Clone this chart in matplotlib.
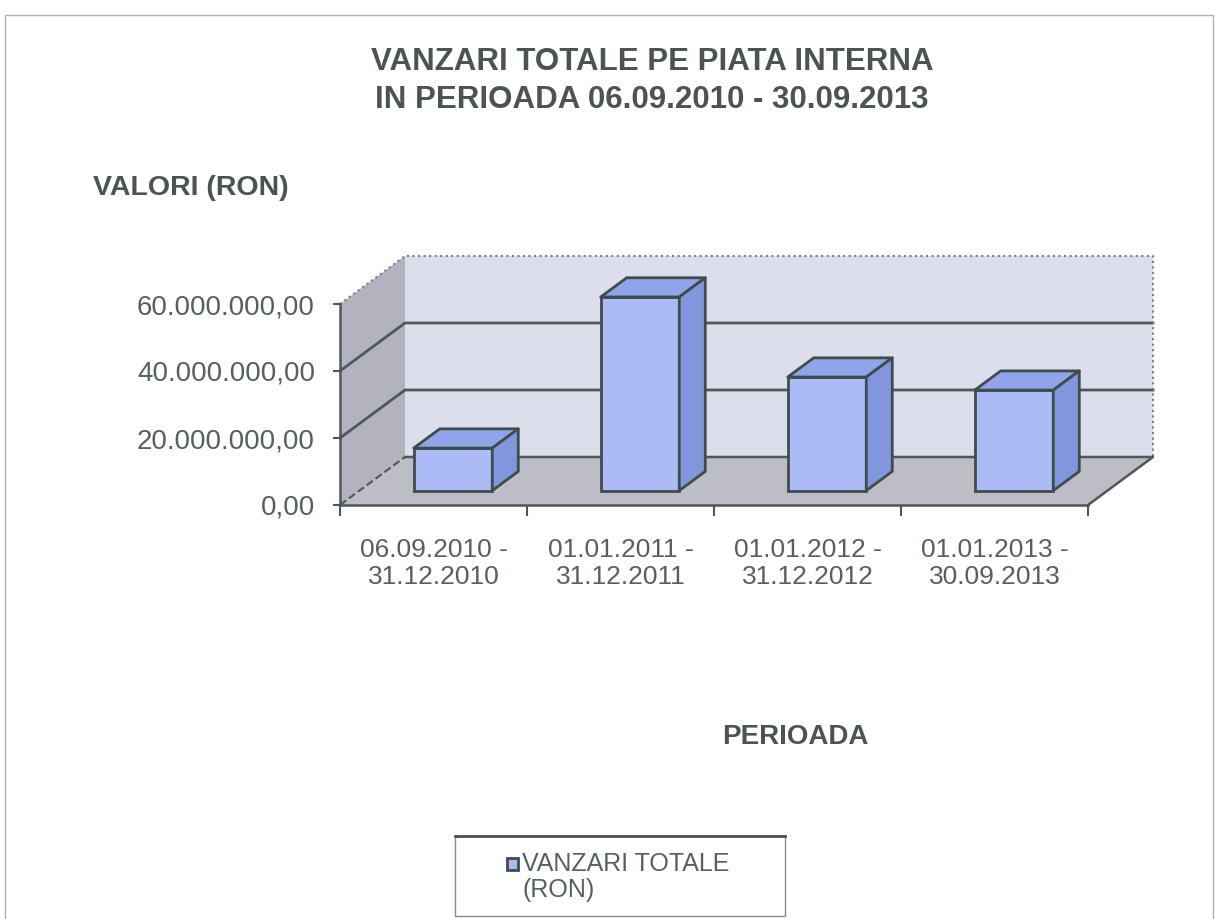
import matplotlib
matplotlib.use('Agg')
import matplotlib.pyplot as plt
from matplotlib.patches import Polygon, Rectangle
from matplotlib.ticker import FuncFormatter

categories = ['06.09.2010 -\n31.12.2010', '01.01.2011 -\n31.12.2011',
              '01.01.2012 -\n31.12.2012', '01.01.2013 -\n30.09.2013']
values = [12.7e6, 57.8e6, 33.9e6, 30.0e6]
yticks = [0, 20e6, 40e6, 60e6]
series_name = 'VANZARI TOTALE\n(RON)'

plt.rcParams['font.family'] = ['Liberation Sans', 'DejaVu Sans']

W, H = 1218, 919
fig = plt.figure(figsize=(W / 100, H / 100), dpi=100)

# pixel layout of the fake 3d box
X0, Y0 = 340, 505          # front-left corner (value 0)
PX_CAT = 187               # px per category
PX_VAL = 3.35 / 1e6        # px per RON
DX = 65 / PX_CAT           # depth offset in category units
DY = 48 / PX_VAL           # depth offset in RON
YMAX = yticks[-1]
n = len(categories)

L, R, T, B = 300, 1180, 240, 530
ax = fig.add_axes([L / W, 1 - B / H, (R - L) / W, (B - T) / H])
ax.set_xlim((L - X0) / PX_CAT, (R - X0) / PX_CAT)
ax.set_ylim((Y0 - B) / PX_VAL, (Y0 - T) / PX_VAL)
ax.patch.set_visible(False)

grid_c = '#4f5757'
txt_c = '#566060'


def P(x, v, d):
    return (x + d * DX, v + d * DY)


# walls and floor
ax.add_patch(Polygon([P(0, 0, 1), P(n, 0, 1), P(n, YMAX, 1), P(0, YMAX, 1)],
                     closed=True, facecolor='#dddeec', edgecolor='none', zorder=0.5))
ax.add_patch(Polygon([P(0, 0, 0), P(0, 0, 1), P(0, YMAX, 1), P(0, YMAX, 0)],
                     closed=True, facecolor='#b3b3bf', edgecolor='none', zorder=0.5))
ax.add_patch(Polygon([P(0, 0, 0), P(n, 0, 0), P(n, 0, 1), P(0, 0, 1)],
                     closed=True, facecolor='#bdbdc6', edgecolor='none', zorder=0.5))

# gridlines on left + back wall
for v in yticks[1:-1]:
    pts = [P(0, v, 0), P(0, v, 1), P(n, v, 1)]
    ax.plot([p[0] for p in pts], [p[1] for p in pts], color=grid_c, lw=2, zorder=1)
pts = [P(0, YMAX, 0), P(0, YMAX, 1), P(n, YMAX, 1), P(n, 0, 1)]
ax.plot([p[0] for p in pts], [p[1] for p in pts], color='#777f7f', lw=1.5, ls=':', zorder=1)
pts = [P(0, 0, 0), P(0, 0, 1)]
ax.plot([p[0] for p in pts], [p[1] for p in pts], color=grid_c, lw=1.5, ls='--', zorder=1)
pts = [P(0, 0, 1), P(n, 0, 1), P(n, 0, 0)]
ax.plot([p[0] for p in pts], [p[1] for p in pts], color=grid_c, lw=1.8, zorder=1)

# bars
bw = 0.42
d0, d1 = 0.3, 0.7
xs = [i + 0.5 - bw / 2 for i in range(n)]
ax.bar([x + d0 * DX for x in xs], values, width=bw, bottom=d0 * DY, align='edge',
       color='#abbbf6', edgecolor='#3f4c4c', linewidth=2, zorder=3)
for x, h in zip(xs, values):
    xr = x + bw
    ax.add_patch(Polygon([P(x, h, d0), P(xr, h, d0), P(xr, h, d1), P(x, h, d1)],
                         closed=True, facecolor='#90a4ea', edgecolor='#3f4c4c',
                         lw=2, joinstyle='round', zorder=3))
    ax.add_patch(Polygon([P(xr, 0, d0), P(xr, 0, d1), P(xr, h, d1), P(xr, h, d0)],
                         closed=True, facecolor='#8196dc', edgecolor='#3f4c4c',
                         lw=2, joinstyle='round', zorder=3))

# axes
for s in ['top', 'right']:
    ax.spines[s].set_visible(False)
ax.spines['left'].set_position(('data', 0))
ax.spines['left'].set_bounds(0, YMAX)
ax.spines['bottom'].set_position(('data', 0))
ax.spines['bottom'].set_bounds(0, n)
for s in ['left', 'bottom']:
    ax.spines[s].set_color(grid_c)
    ax.spines[s].set_linewidth(1.8)

ax.set_yticks(yticks)
ax.yaxis.set_major_formatter(FuncFormatter(
    lambda v, p: f'{v:,.2f}'.replace(',', ' ').replace('.', ',').replace(' ', '.')))
ax.tick_params(axis='y', direction='out', length=5, width=1.5, color=grid_c,
               pad=13, labelsize=20, labelcolor=txt_c)

ax.set_xticks(range(n + 1))
ax.set_xticklabels([])
ax.set_xticks([i + 0.5 for i in range(n)], minor=True)
ax.set_xticklabels(categories, minor=True)
ax.tick_params(axis='x', which='major', direction='out', length=8, width=1.5, color=grid_c)
ax.tick_params(axis='x', which='minor', length=0, pad=24, labelsize=19, labelcolor=txt_c)
for t in ax.get_xticklabels(minor=True):
    t.set_linespacing(1.12)

# texts
title_c = '#4b5353'
fig.text(652 / W, 1 - 62 / H, 'VANZARI TOTALE PE PIATA INTERNA', ha='center', va='center',
         fontsize=22.5, fontweight='bold', color=title_c)
fig.text(652 / W, 1 - 100 / H, 'IN PERIOADA 06.09.2010 - 30.09.2013', ha='center', va='center',
         fontsize=22.5, fontweight='bold', color=title_c)
fig.text(93 / W, 1 - 188 / H, 'VALORI (RON)', ha='left', va='center',
         fontsize=20.5, fontweight='bold', color=title_c)
fig.text(795 / W, 1 - 737 / H, 'PERIOADA', ha='center', va='center',
         fontsize=20, fontweight='bold', color=title_c)

# legend (drawn by hand to match the boxed excel legend)
fig.patches.append(Rectangle((455 / W, 1 - 916 / H), 330 / W, 80 / H, transform=fig.transFigure,
                             facecolor='white', edgecolor='#8a8a8a', lw=1))
fig.lines.append(plt.Line2D([455 / W, 785 / W], [1 - 836 / H, 1 - 836 / H],
                            transform=fig.transFigure, color='#505050', lw=2))
fig.patches.append(Rectangle((507 / W, 1 - 870 / H), 11 / W, 12 / H, transform=fig.transFigure,
                             facecolor='#abbbf6', edgecolor='#3f4c4c', lw=2))
fig.text(522 / W, 1 - 877 / H, series_name, ha='left', va='center', fontsize=18,
         color=txt_c, linespacing=1.08)

# outer chart frame
fig.patches.append(Rectangle((5 / W, -0.01), 1208 / W, 1 - 15 / H + 0.01,
                             transform=fig.transFigure, facecolor='none',
                             edgecolor='#b0b0b0', lw=1))

fig.savefig('out.png', dpi=100)
